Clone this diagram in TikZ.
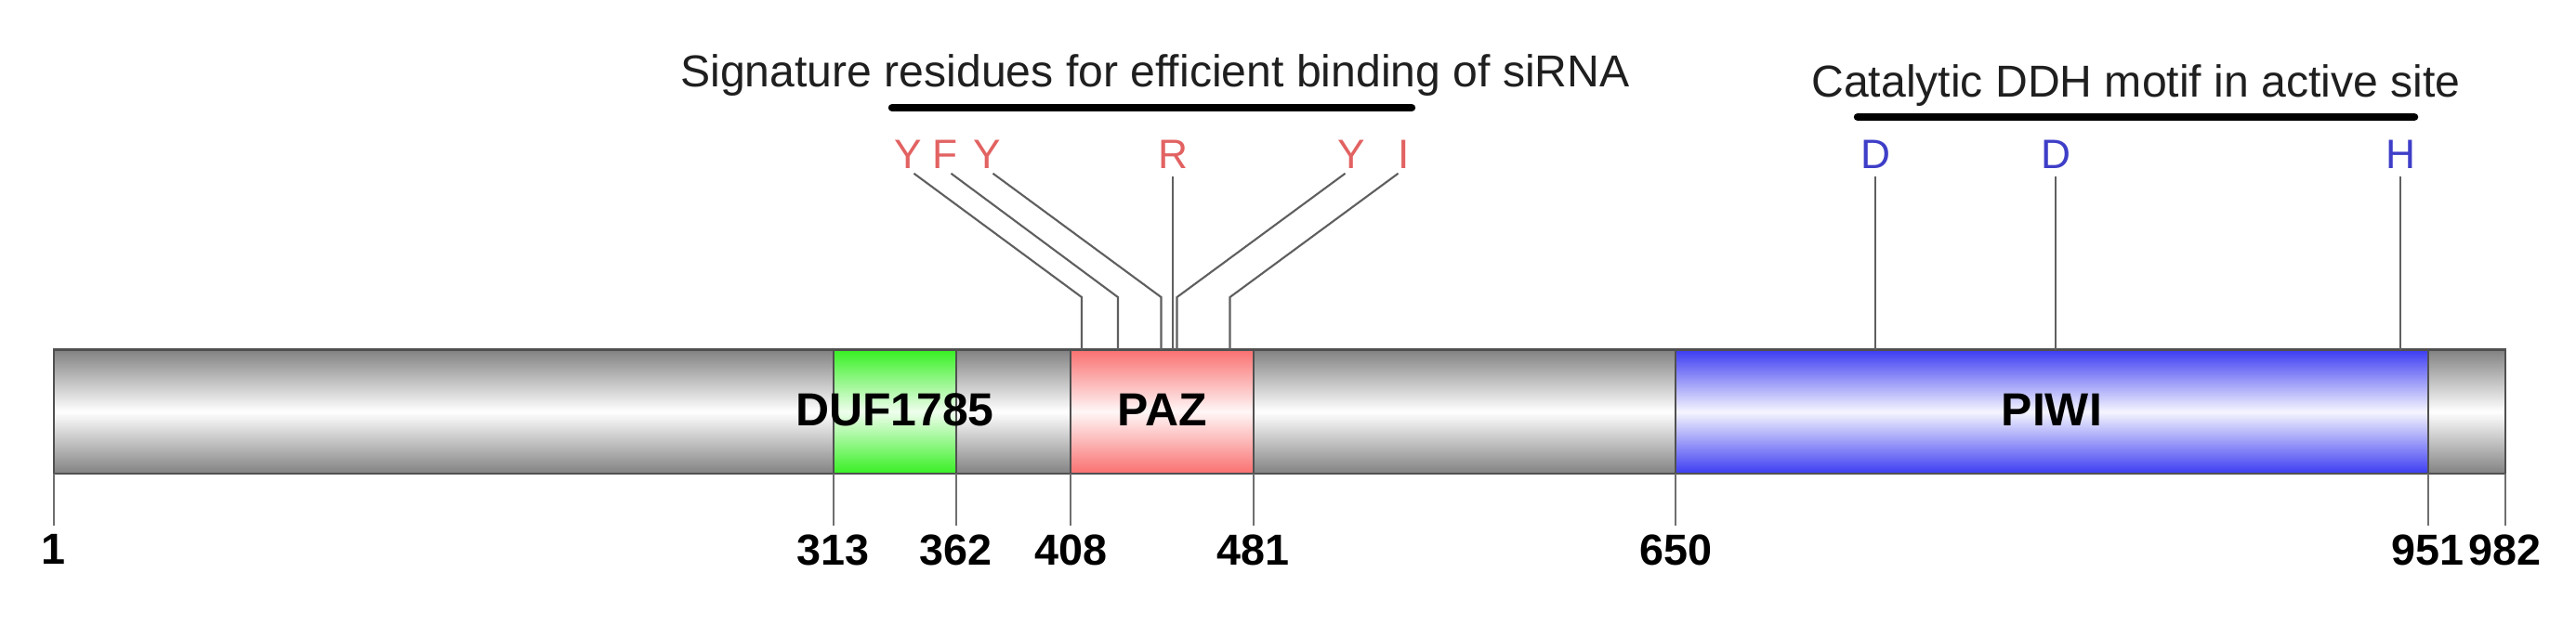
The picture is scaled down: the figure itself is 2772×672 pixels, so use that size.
\documentclass[tikz,border=0pt]{standalone}
\usepackage{fontspec}
\setmainfont{Liberation Sans}
\usepackage{tikz}
\usetikzlibrary{positioning}
\definecolor{bargray}{RGB}{130,130,130}
\definecolor{dufgreen}{RGB}{55,240,35}
\definecolor{pazred}{RGB}{250,112,112}
\definecolor{piwiblue}{RGB}{60,60,242}
\definecolor{redres}{RGB}{226,98,98}
\definecolor{blueres}{RGB}{62,62,200}
\definecolor{edgegray}{RGB}{80,80,80}
\definecolor{linegray}{RGB}{95,95,95}
\newcommand{\pos}[1]{55.3+2.689*(#1)}

\tikzset{
  domainlabel/.style={font=\fontsize{14.2}{17}\selectfont\bfseries, inner sep=0pt},
  posnum/.style={font=\fontsize{13.3}{16}\selectfont\bfseries, inner sep=0.9mm, anchor=north},
  redletter/.style={font=\fontsize{12.6}{15}\selectfont, text=redres, inner sep=0pt, anchor=south},
  blueletter/.style={font=\fontsize{12.6}{15}\selectfont, text=blueres, inner sep=0pt, anchor=south},
  motiftext/.style={font=\fontsize{13.7}{16}\selectfont, text=black!88, inner sep=0pt, anchor=base},
  ticklink/.style={draw=linegray!90, line width=0.6pt},
  resline/.style={draw=linegray, line width=0.6pt, shorten <=0.8mm},
  motifbar/.style={line width=2.4pt, line cap=round}
}

\begin{document}
\begin{tikzpicture}[x=0.1mm, y=-0.1mm]
    \useasboundingbox (0,0) rectangle (2772,672);

    % Protein backbone
    \shade[top color=bargray, bottom color=bargray, middle color=white] ({\pos{1}},376.7) rectangle ({\pos{982}},510);

    % Domains
    \shadedraw[top color=dufgreen, bottom color=dufgreen, middle color=dufgreen!8, draw=edgegray, line width=0.6pt] ({\pos{313}},376.7) rectangle ({\pos{362}},510);
    \shadedraw[top color=pazred, bottom color=pazred, middle color=pazred!6, draw=edgegray, line width=0.6pt] ({\pos{408}},376.7) rectangle ({\pos{481}},510);
    \shadedraw[top color=piwiblue, bottom color=piwiblue, middle color=piwiblue!5, draw=edgegray, line width=0.6pt] ({\pos{650}},376.7) rectangle ({\pos{951}},510);
    \draw[edgegray, line width=0.8pt] ({\pos{1}},376.7) rectangle ({\pos{982}},510);

    \node[domainlabel] (duf) at ({\pos{337.5}}, 441) {DUF1785};
    \node[domainlabel] (paz) at ({\pos{444.5}}, 441) {PAZ};
    \node[domainlabel] (piwi) at ({\pos{800.5}}, 441) {PIWI};

    % Position ticks
    \coordinate (b1) at ({\pos{1}},510);
    \coordinate (b313) at ({\pos{313}},510);
    \coordinate (b362) at ({\pos{362}},510);
    \coordinate (b408) at ({\pos{408}},510);
    \coordinate (b481) at ({\pos{481}},510);
    \coordinate (b650) at ({\pos{650}},510);
    \coordinate (b951) at ({\pos{951}},510);
    \coordinate (b982) at ({\pos{982}},510);
    \node[posnum] (n1) at ({\pos{1}},566) {1};
    \node[posnum] (n313) at ({\pos{313}},566) {313};
    \node[posnum] (n362) at ({\pos{362}},566) {362};
    \node[posnum] (n408) at ({\pos{408}},566) {408};
    \node[posnum] (n481) at ({\pos{481}},566) {481};
    \node[posnum] (n650) at ({\pos{650}},566) {650};
    \node[posnum] (n951) at ({\pos{951}},566) {951};
    \node[posnum] (n982) at ({\pos{982}},566) {982};
    \draw[ticklink] (b1) -- (n1);
    \draw[ticklink] (b313) -- (n313);
    \draw[ticklink] (b362) -- (n362);
    \draw[ticklink] (b408) -- (n408);
    \draw[ticklink] (b481) -- (n481);
    \draw[ticklink] (b650) -- (n650);
    \draw[ticklink] (b951) -- (n951);
    \draw[ticklink] (b982) -- (n982);

    % siRNA binding residues
    \node[motiftext] (sigtext) at (1243, 93) {Signature residues for efficient binding of siRNA};
    \draw[motifbar] (960,116) -- (1519,116);
    \node[redletter] (r1) at (977,182) {Y};
    \node[redletter] (r2) at (1017,182) {F};
    \node[redletter] (r3) at (1062,182) {Y};
    \node[redletter] (r4) at (1262,182) {R};
    \node[redletter] (r5) at (1454,182) {Y};
    \node[redletter] (r6) at (1511,182) {I};
    \coordinate (k1) at (1164,320);
    \coordinate (k2) at (1203,320);
    \coordinate (k3) at (1249.5,320);
    \coordinate (k5) at (1266.5,320);
    \coordinate (k6) at (1323.5,320);
    \coordinate (e1) at (1164,376.7);
    \coordinate (e2) at (1203,376.7);
    \coordinate (e3) at (1249.5,376.7);
    \coordinate (e4) at (1262,376.7);
    \coordinate (e5) at (1266.5,376.7);
    \coordinate (e6) at (1323.5,376.7);
    \draw[resline] (r1.south) -- (k1) -- (e1);
    \draw[resline] (r2.south) -- (k2) -- (e2);
    \draw[resline] (r3.south) -- (k3) -- (e3);
    \draw[resline] (r4.south) -- (e4);
    \draw[resline] (r5.south) -- (k5) -- (e5);
    \draw[resline] (r6.south) -- (k6) -- (e6);

    % Catalytic DDH motif
    \node[motiftext] (ddhtext) at (2298.5, 105) {Catalytic DDH motif in active site};
    \draw[motifbar] (1999,126) -- (2598,126);
    \node[blueletter] (d1) at (2018,182) {D};
    \node[blueletter] (d2) at (2212,182) {D};
    \node[blueletter] (h1) at (2583,182) {H};
    \coordinate (ed1) at (2018,376.7);
    \coordinate (ed2) at (2212,376.7);
    \coordinate (eh1) at (2583,376.7);
    \draw[resline] (d1.south) -- (ed1);
    \draw[resline] (d2.south) -- (ed2);
    \draw[resline] (h1.south) -- (eh1);

\end{tikzpicture}
\end{document}
